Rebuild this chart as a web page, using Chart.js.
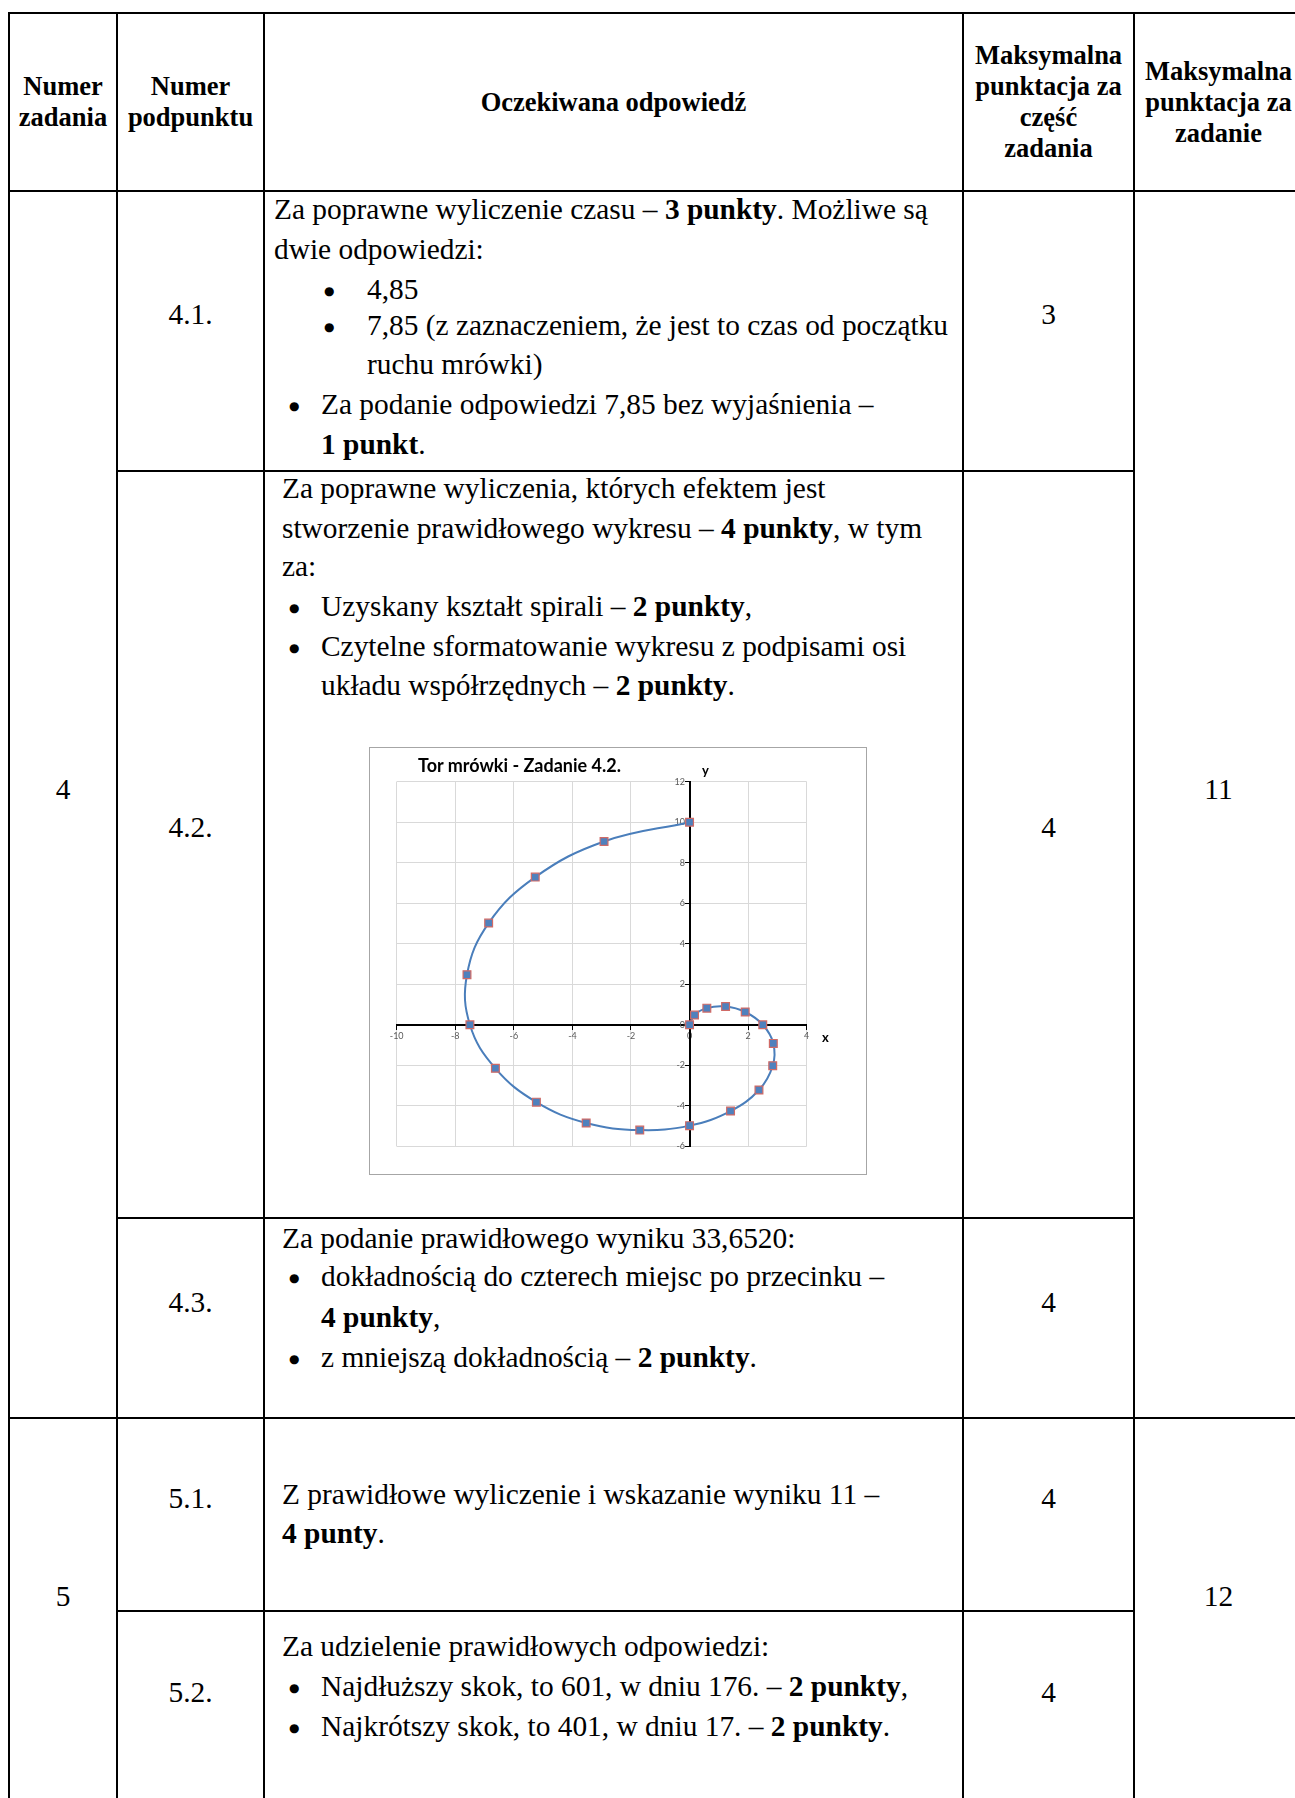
<!DOCTYPE html>
<html lang="pl">
<head>
<meta charset="utf-8">
<title>Tor mrówki - Zadanie 4.2.</title>
<script src="https://cdn.jsdelivr.net/npm/chart.js@4.4.1/dist/chart.umd.min.js"></script>
<style>
  html, body { margin: 0; padding: 0; background: #fff; }
  body { width: 1295px; height: 1798px; overflow: hidden; position: relative;
         font-family: "Liberation Serif", "Times New Roman", serif; color: #000; }
  .hl { position: absolute; height: 2px; background: #000; }
  .vl { position: absolute; width: 2px; background: #000; }
  .t { position: absolute; white-space: nowrap; font-size: 29.4px; line-height: 40px; }
  .c { text-align: center; }
  .bl { position: absolute; font-family: "DejaVu Sans", sans-serif; font-size: 12px; line-height: 40px; margin-top: 2px; }
  .h { position: absolute; font-weight: bold; font-size: 26.5px; line-height: 31px; text-align: center; }
  b { font-weight: bold; }
  #chartBox { position: absolute; left: 369px; top: 747px; width: 496px; height: 426px;
              border: 1px solid #a6a6a6; background: #fff; }
  #chartBox canvas { position: absolute; left: 0; top: 0; }
  .ct { position: absolute; font-family: Lato, "Open Sans", sans-serif; font-weight: bold; color: #000; white-space: nowrap; }
</style>
</head>
<body>

<!-- table lines -->
<div class="hl" style="left:8px; top:12px; width:1300px;"></div>
<div class="hl" style="left:8px; top:190px; width:1300px;"></div>
<div class="hl" style="left:116px; top:470px; width:1019px;"></div>
<div class="hl" style="left:116px; top:1217px; width:1019px;"></div>
<div class="hl" style="left:8px; top:1417px; width:1300px;"></div>
<div class="hl" style="left:116px; top:1610px; width:1019px;"></div>
<div class="vl" style="left:8px; top:12px; height:1800px;"></div>
<div class="vl" style="left:116px; top:12px; height:1800px;"></div>
<div class="vl" style="left:263px; top:12px; height:1800px;"></div>
<div class="vl" style="left:962px; top:12px; height:1800px;"></div>
<div class="vl" style="left:1133px; top:12px; height:1800px;"></div>

<!-- header -->
<div class="h" style="left:10px; width:106px; top:71px;">Numer<br>zadania</div>
<div class="h" style="left:118px; width:145px; top:71px;">Numer<br>podpunktu</div>
<div class="h" style="left:265px; width:697px; top:87px;">Oczekiwana odpowiedź</div>
<div class="h" style="left:964px; width:169px; top:40px;">Maksymalna<br>punktacja za<br>część<br>zadania</div>
<div class="h" style="left:1135px; width:167px; top:56px;">Maksymalna<br>punktacja za<br>zadanie</div>

<!-- column 1 / 5 -->
<div class="t c" style="left:10px; width:106px; top:769px;">4</div>
<div class="t c" style="left:1135px; width:167px; top:769px;">11</div>
<div class="t c" style="left:10px; width:106px; top:1576px;">5</div>
<div class="t c" style="left:1135px; width:167px; top:1576px;">12</div>

<!-- 4.1 -->
<div class="t c" style="left:118px; width:145px; top:294px;">4.1.</div>
<div class="t c" style="left:964px; width:169px; top:294px;">3</div>
<div class="t" style="left:274px; top:189px;">Za poprawne wyliczenie czasu – <b>3 punkty</b>. Możliwe są</div>
<div class="t" style="left:274px; top:229px;">dwie odpowiedzi:</div>
<div class="bl" style="left:324px; top:269px;">●</div>
<div class="t" style="left:367px; top:269px;">4,85</div>
<div class="bl" style="left:324px; top:305px;">●</div>
<div class="t" style="left:367px; top:305px;">7,85 (z zaznaczeniem, że jest to czas od początku</div>
<div class="t" style="left:367px; top:344px;">ruchu mrówki)</div>
<div class="bl" style="left:289px; top:384px;">●</div>
<div class="t" style="left:321px; top:384px;">Za podanie odpowiedzi 7,85 bez wyjaśnienia –</div>
<div class="t" style="left:321px; top:424px;"><b>1 punkt</b>.</div>

<!-- 4.2 -->
<div class="t c" style="left:118px; width:145px; top:807px;">4.2.</div>
<div class="t c" style="left:964px; width:169px; top:807px;">4</div>
<div class="t" style="left:282px; top:468px;">Za poprawne wyliczenia, których efektem jest</div>
<div class="t" style="left:282px; top:508px;">stworzenie prawidłowego wykresu – <b>4 punkty</b>, w tym</div>
<div class="t" style="left:282px; top:546px;">za:</div>
<div class="bl" style="left:289px; top:586px;">●</div>
<div class="t" style="left:321px; top:586px;">Uzyskany kształt spirali – <b>2 punkty</b>,</div>
<div class="bl" style="left:289px; top:626px;">●</div>
<div class="t" style="left:321px; top:626px;">Czytelne sformatowanie wykresu z podpisami osi</div>
<div class="t" style="left:321px; top:665px;">układu współrzędnych – <b>2 punkty</b>.</div>

<div id="chartBox">
  <canvas id="chart" width="496" height="426"></canvas>
  <div class="ct" style="left:48px; top:6px; font-size:18px;">Tor mrówki - Zadanie 4.2.</div>
  <div class="ct" style="left:332px; top:14px; font-size:13px;">y</div>
  <div class="ct" style="left:452px; top:281px; font-size:13px;">x</div>
</div>

<!-- 4.3 -->
<div class="t c" style="left:118px; width:145px; top:1282px;">4.3.</div>
<div class="t c" style="left:964px; width:169px; top:1282px;">4</div>
<div class="t" style="left:282px; top:1218px;">Za podanie prawidłowego wyniku 33,6520:</div>
<div class="bl" style="left:289px; top:1256px;">●</div>
<div class="t" style="left:321px; top:1256px;">dokładnością do czterech miejsc po przecinku –</div>
<div class="t" style="left:321px; top:1297px;"><b>4 punkty</b>,</div>
<div class="bl" style="left:289px; top:1337px;">●</div>
<div class="t" style="left:321px; top:1337px;">z mniejszą dokładnością – <b>2 punkty</b>.</div>

<!-- 5.1 -->
<div class="t c" style="left:118px; width:145px; top:1478px;">5.1.</div>
<div class="t c" style="left:964px; width:169px; top:1478px;">4</div>
<div class="t" style="left:282px; top:1474px;">Z prawidłowe wyliczenie i wskazanie wyniku 11 –</div>
<div class="t" style="left:282px; top:1513px;"><b>4 punty</b>.</div>

<!-- 5.2 -->
<div class="t c" style="left:118px; width:145px; top:1672px;">5.2.</div>
<div class="t c" style="left:964px; width:169px; top:1672px;">4</div>
<div class="t" style="left:282px; top:1626px;">Za udzielenie prawidłowych odpowiedzi:</div>
<div class="bl" style="left:289px; top:1666px;">●</div>
<div class="t" style="left:321px; top:1666px;">Najdłuższy skok, to 601, w dniu 176. – <b>2 punkty</b>,</div>
<div class="bl" style="left:289px; top:1706px;">●</div>
<div class="t" style="left:321px; top:1706px;">Najkrótszy skok, to 401, w dniu 17. – <b>2 punkty</b>.</div>

<script>
// --- chart data ---
const pointX = [0, -2.92, -5.27, -6.86, -7.60, -7.50, -6.63, -5.23, -3.53, -1.70, 0, 1.40, 2.37, 2.84, 2.86, 2.50, 1.90, 1.23, 0.59, 0.17, 0];
const pointY = [10, 9.05, 7.29, 5.02, 2.47, 0, -2.15, -3.82, -4.85, -5.20, -4.98, -4.26, -3.22, -2.02, -0.92, 0, 0.63, 0.90, 0.82, 0.48, 0];
const xAxisRange = [-10, 4];
const yAxisRange = [-6, 12];
const tickStep = [2];

const points = pointX.map((x, i) => ({ x: x, y: pointY[i] }));

const tickFont = { family: 'Lato, "Open Sans", sans-serif', size: 9 };

new Chart(document.getElementById('chart'), {
  type: 'scatter',
  data: {
    datasets: [{
      data: points,
      showLine: true,
      tension: 0.4,
      borderColor: '#4A7EBB',
      borderWidth: 2,
      pointStyle: 'rect',
      pointRadius: 5.5,
      pointBackgroundColor: '#4F81BD',
      pointBorderColor: '#D06A66',
      pointBorderWidth: 1.2
    }]
  },
  options: {
    responsive: false,
    animation: false,
    devicePixelRatio: 1,
    layout: { padding: { left: 26.7, right: 59.3, top: 33.7, bottom: 27.7 }, autoPadding: false },
    plugins: { legend: { display: false }, tooltip: { enabled: false }, title: { display: false } },
    scales: {
      x: {
        type: 'linear',
        position: { y: 0 },
        min: xAxisRange[0], max: xAxisRange[1],
        ticks: { stepSize: tickStep[0], color: '#595959', font: tickFont, padding: 2, maxRotation: 0 },
        grid: { color: '#d9d9d9', lineWidth: 1, tickColor: '#000', tickLength: 4 },
        border: { color: '#000', width: 2 },
        afterFit: (s) => { s.height = 0; }
      },
      y: {
        type: 'linear',
        position: { x: 0 },
        min: yAxisRange[0], max: yAxisRange[1],
        ticks: { stepSize: tickStep[0], color: '#595959', font: tickFont, padding: 2,
                 callback: (v) => v + '  ' },
        grid: { color: '#d9d9d9', lineWidth: 1, tickColor: '#000', tickLength: 4 },
        border: { color: '#000', width: 2 },
        afterFit: (s) => { s.width = 0; }
      }
    }
  }
});
</script>
</body>
</html>
